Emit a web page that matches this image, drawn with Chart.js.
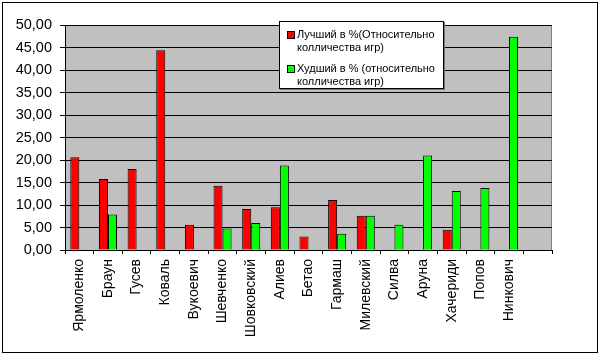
<!DOCTYPE html>
<html><head><meta charset="utf-8">
<script src="https://cdn.jsdelivr.net/npm/chart.js@4"></script>
<style>
html,body{margin:0;padding:0;background:#fff;}
#wrap{position:relative;width:600px;height:355px;}
#frame{position:absolute;left:2px;top:2px;width:594px;height:349px;border:1px solid #000;pointer-events:none;}
#legend{position:absolute;left:279px;top:21px;width:163px;height:66px;border:1px solid #000;background:#fff;font-family:"Liberation Sans",Arial,sans-serif;font-size:11px;line-height:13px;color:#000;box-shadow:1px 1px 0 #777;}
.item{position:absolute;left:7px;}
.sw{position:absolute;left:0;top:3px;width:6px;height:6px;border:1px solid #000;}
.tx{margin-left:10px;white-space:nowrap;}
</style></head>
<body>
<div id="wrap">
<canvas id="c" width="600" height="355"></canvas>
<div id="legend"></div>
<div id="frame"></div>
</div>
<script>
const categories = ['Ярмоленко','Браун','Гусев','Коваль','Вукоевич','Шевченко','Шовковский','Алиев','Бетао','Гармаш','Милевский','Силва','Аруна','Хачериди','Попов','Нинкович',''];
const bestValues = [20.6, 15.8, 18.0, 44.4, 5.6, 14.3, 9.1, 9.5, 3.0, 11.1, 7.6, null, null, 4.5, null, null, null];
const worstValues = [null, 7.9, null, null, null, 4.8, 6.0, 18.8, null, 3.6, 7.6, 5.6, 21.0, 13.1, 13.8, 47.4, null];
const seriesLabels = ['Лучший в %(Относительно колличества игр)', 'Худший в % (относительно колличества игр)'];
const yTicks = [0,5,10,15,20,25,30,35,40,45,50];
const colors = ['#FF0000', '#00FF00'];

const font = {family: '"Liberation Sans", Arial, sans-serif', size: 14};

const bgPlugin = {
  id: 'bg',
  beforeDraw(chart) {
    const a = chart.chartArea, ctx = chart.ctx;
    ctx.save();
    ctx.fillStyle = '#C0C0C0';
    ctx.fillRect(a.left, a.top, a.right - a.left, a.bottom - a.top);
    ctx.strokeStyle = '#808080';
    ctx.lineWidth = 1;
    ctx.strokeRect(a.left + 0.5, a.top + 0.5, a.right - a.left - 1, a.bottom - a.top);
    ctx.restore();
  }
};

new Chart(document.getElementById('c'), {
  type: 'bar',
  data: {
    labels: categories,
    datasets: [
      {label: seriesLabels[0], data: bestValues, backgroundColor: colors[0], borderColor: '#000', borderWidth: 1, categoryPercentage: 0.63, barPercentage: 1.0},
      {label: seriesLabels[1], data: worstValues, backgroundColor: colors[1], borderColor: '#000', borderWidth: 1, categoryPercentage: 0.63, barPercentage: 1.0}
    ]
  },
  options: {
    responsive: false,
    animation: false,
    layout: {padding: {left: 0, right: 48, top: 25, bottom: 0}},
    plugins: {legend: {display: false}, tooltip: {enabled: false}},
    scales: {
      x: {
        grid: {display: true, drawOnChartArea: false, color: '#000', tickLength: 4, offset: true},
        border: {color: '#000', width: 1},
        ticks: {color: '#000', font: font, minRotation: 90, maxRotation: 90, autoSkip: false, padding: 5},
        afterFit(scale) { scale.height = 105; }
      },
      y: {
        min: 0, max: 50,
        afterBuildTicks(scale) { scale.ticks = yTicks.map(v => ({value: v})); },
        grid: {color: '#000', lineWidth: 1, tickLength: 5},
        border: {color: '#000', width: 1},
        ticks: {color: '#000', font: {family: font.family, size: 14.5}, padding: 8, callback: v => Number(v).toFixed(2).replace('.', ',')},
        afterFit(scale) { scale.width = 65; }
      }
    }
  },
  plugins: [bgPlugin]
});

// HTML legend built from series labels
const leg = document.getElementById('legend');
const tops = [6, 40];
seriesLabels.forEach((lab, i) => {
  const idx = lab.indexOf('колличества');
  const l1 = lab.slice(0, idx).trim(), l2 = lab.slice(idx);
  const it = document.createElement('div');
  it.className = 'item';
  it.style.top = tops[i] + 'px';
  it.innerHTML = '<div class="sw" style="background:' + colors[i] + '"></div><div class="tx">' + l1 + '<br>' + l2 + '</div>';
  leg.appendChild(it);
});
</script>
</body></html>
